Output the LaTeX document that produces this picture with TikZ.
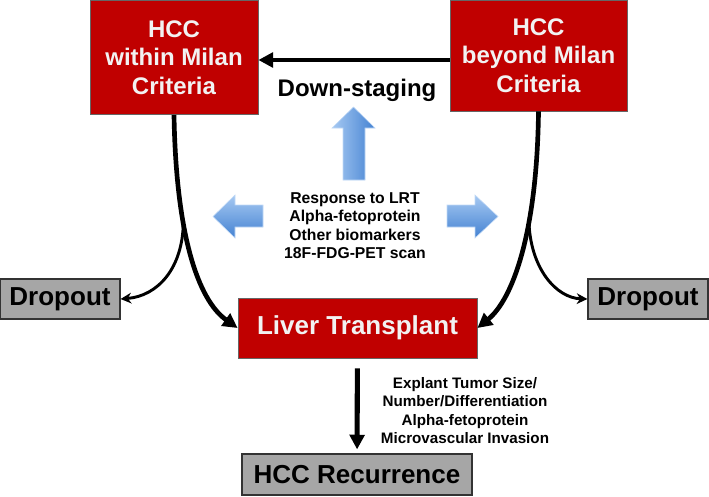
\documentclass[tikz,border=0pt]{standalone}
\usepackage{fontspec}
\setmainfont{Liberation Sans}
\usepackage{tikz}
\usetikzlibrary{arrows.meta}

\definecolor{boxred}{HTML}{C00000}
\definecolor{boxgray}{HTML}{A6A6A6}
\definecolor{boxtext}{HTML}{F2F2F2}
\definecolor{bluelight}{HTML}{A6C9F2}
\definecolor{bluedark}{HTML}{4482D2}

\begin{document}
\begin{tikzpicture}[
        x=0.75pt, y=-0.75pt,
        redbox/.style={
            rectangle,
            fill=boxred, draw=black!60, line width=0.6pt,
            text=boxtext, align=center,
            font=\fontsize{18}{21.4}\selectfont\bfseries
        },
        graybox/.style={
            rectangle,
            fill=boxgray, draw=black!80, line width=0.9pt,
            align=center,
            font=\fontsize{19.5}{23}\selectfont\bfseries
        },
        thickarrow/.style={-{Triangle[length=11pt,width=11pt]}, line width=3.5pt},
        thinarrow/.style={-{Stealth[length=8pt,width=8pt]}, line width=2.2pt},
        smalltext/.style={align=center, font=\fontsize{11.8}{13.8}\selectfont\bfseries},
        bluevert/.style={left color=bluelight, right color=bluedark, draw=bluelight!70!white, line width=0.4pt},
        bluehorz/.style={top color=bluelight, bottom color=bluedark, draw=bluelight!70!white, line width=0.4pt}
    ]
    \useasboundingbox (0,0) rectangle (709,496);

    % boxes
    \node[redbox, minimum width=126pt, minimum height=85.5pt] (within) at (174,57.5)
        {HCC\\within Milan\\Criteria};
    \node[redbox, minimum width=132.75pt, minimum height=83.25pt] (beyond) at (538.5,55.5)
        {HCC\\beyond Milan\\Criteria};
    \node[redbox, minimum width=179.25pt, minimum height=45pt,
          font=\fontsize{19.5}{23}\selectfont\bfseries] (liver) at (357.5,328)
        {Liver Transplant};
    \node[graybox, minimum width=90pt, minimum height=30pt] (dropL) at (60,299) {Dropout};
    \node[graybox, minimum width=90pt, minimum height=30pt] (dropR) at (648,299) {Dropout};
    \node[graybox, minimum width=172.5pt, minimum height=30.75pt] (recur) at (357,474.5)
        {HCC Recurrence};

    % labels
    \node[font=\fontsize{18}{21}\selectfont\bfseries] (down) at (357,90) {Down-staging};
    \node[smalltext] (markers) at (355,225.5)
        {Response to LRT\\Alpha-fetoprotein\\Other biomarkers\\18F-FDG-PET scan};
    \node[smalltext, font=\fontsize{11.4}{13.8}\selectfont\bfseries] (explant) at (465,410.5)
        {Explant Tumor Size/\\Number/Differentiation\\Alpha-fetoprotein\\Microvascular Invasion};

    % blue arrows
    \shade[bluevert] (343,180) -- (343,128) -- (332,128) -- (353.5,107)
        -- (375,128) -- (365,128) -- (365,180) -- cycle;
    \shade[bluehorz] (263,205) -- (235,205) -- (235,195) -- (213,216.5)
        -- (235,238) -- (235,227) -- (263,227) -- cycle;
    \shade[bluehorz] (447,205) -- (475,205) -- (475,195) -- (498,216.5)
        -- (475,238) -- (475,227) -- (447,227) -- cycle;

    % connectors
    \draw[thickarrow] (beyond.west |- 0,60) -- (within.east |- 0,60);
    \draw[thickarrow] (within.south) .. controls (176,235) and (198,300) ..
        coordinate[pos=0.35] (lsplit) (liver.west);
    \draw[thickarrow] (beyond.south) .. controls (537,235) and (512,300) ..
        coordinate[pos=0.35] (rsplit) (liver.east);
    \draw[thinarrow] (lsplit) .. controls (183,268) and (158,296) .. (dropL.east);
    \draw[thinarrow] (rsplit) .. controls (530,268) and (556,298) .. (dropR.west);
    \draw[thickarrow, line width=3.8pt, shorten <=7.5pt, shorten >=3pt] (liver) -- (recur);

\end{tikzpicture}
\end{document}
